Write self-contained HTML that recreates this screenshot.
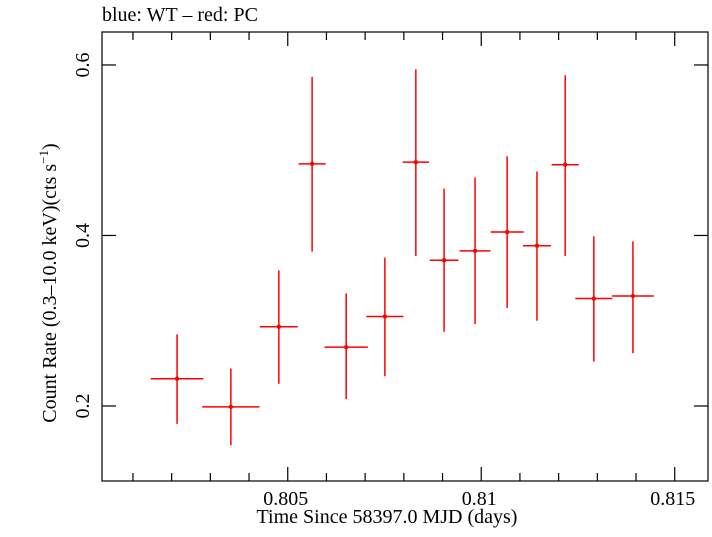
<!DOCTYPE html>
<html><head><meta charset="utf-8"><style>
body{margin:0;background:#fff;}
svg text{font-family:"Liberation Serif",serif;fill:#000;}
</style></head><body>
<svg width="712" height="532" xmlns="http://www.w3.org/2000/svg">
<text x="102" y="21" font-size="20">blue: WT – red: PC</text>
<rect x="102" y="32" width="606" height="449" fill="none" stroke="#000" stroke-width="1.2"/>
<g id="axes"></g>
<g id="series"></g>
<text x="387" y="523" font-size="20" text-anchor="middle">Time Since 58397.0 MJD (days)</text>
<text transform="translate(56,283) rotate(-90)" font-size="20" text-anchor="middle">Count Rate (0.3–10.0 keV)(cts s<tspan font-size="13" dy="-8">−1</tspan><tspan dy="8">)</tspan></text>
</svg>
<script>
const xVals=[0.80214,0.80353,0.80477,0.80563,0.80651,0.80751,0.80831,0.80904,0.80984,0.81067,0.81144,0.81217,0.81291,0.81392];
const xHalf=[0.00068,0.00074,0.00049,0.00035,0.00056,0.00048,0.00034,0.00037,0.0004,0.00043,0.00036,0.00035,0.00048,0.00054];
const yVals=[0.232,0.199,0.293,0.484,0.269,0.305,0.486,0.371,0.382,0.404,0.388,0.483,0.326,0.329];
const yLo=[0.179,0.154,0.226,0.381,0.208,0.235,0.376,0.287,0.296,0.315,0.300,0.376,0.252,0.262];
const yHi=[0.284,0.244,0.359,0.586,0.332,0.374,0.595,0.455,0.468,0.493,0.475,0.588,0.399,0.393];
const xTicks=[0.805,0.81,0.815];
const xTickLabels=["0.805","0.81","0.815"];
const yTicks=[0.2,0.4,0.6];
const yTickLabels=["0.2","0.4","0.6"];
const L=102,R=708,T=22,B=481;
const X0=0.80020,X1=0.81586,Y0=0.112,Y1=0.6504;
const sx=v=>L+(v-X0)/(X1-X0)*(R-L);
const sy=v=>B-(v-Y0)/(Y1-Y0)*(B-T);
const NS="http://www.w3.org/2000/svg";
function mk(tag,attrs,parent){const e=document.createElementNS(NS,tag);for(const k in attrs)e.setAttribute(k,attrs[k]);parent.appendChild(e);return e;}
const TOP=32;
const ax=document.getElementById('axes');
for(let k=801;k<=815;k++){const v=k/1000;const px=sx(v);const major=(k%5===0);const len=major?14:8;
 let t=mk('line',{x1:px,x2:px,y1:B,y2:B-len,stroke:'#000','stroke-width':1.2},ax);
 
 
 let t2=mk('line',{x1:px,x2:px,y1:TOP,y2:TOP+len,stroke:'#000','stroke-width':1.2},ax);
 
 }
xTicks.forEach((v,i)=>{const t=mk('text',{x:sx(v)-2,y:505,'font-size':20,'text-anchor':'middle'},ax);t.textContent=xTickLabels[i];
 
 });
yTicks.forEach((v,i)=>{const py=sy(v);
 let a=mk('line',{x1:L,x2:L+14,y1:py,y2:py,stroke:'#000','stroke-width':1.2},ax);
 
 
 let b=mk('line',{x1:R,x2:R-14,y1:py,y2:py,stroke:'#000','stroke-width':1.2},ax);
 
 
 const t=mk('text',{x:0,y:0,'font-size':20,'text-anchor':'middle',transform:`translate(89,${py}) rotate(-90)`},ax);t.textContent=yTickLabels[i];
 
 });
const sg=document.getElementById('series');
xVals.forEach((x,i)=>{const g=mk('g',{},sg);
 
 
 mk('line',{x1:sx(x-xHalf[i]),x2:sx(x+xHalf[i]),y1:sy(yVals[i]),y2:sy(yVals[i]),stroke:'#f00','stroke-width':1.5},g);
 mk('line',{x1:sx(x),x2:sx(x),y1:sy(yLo[i]),y2:sy(yHi[i]),stroke:'#f00','stroke-width':1.5},g);
 mk('circle',{cx:sx(x),cy:sy(yVals[i]),r:2.2,fill:'#f00'},g);});
</script>
</body></html>
